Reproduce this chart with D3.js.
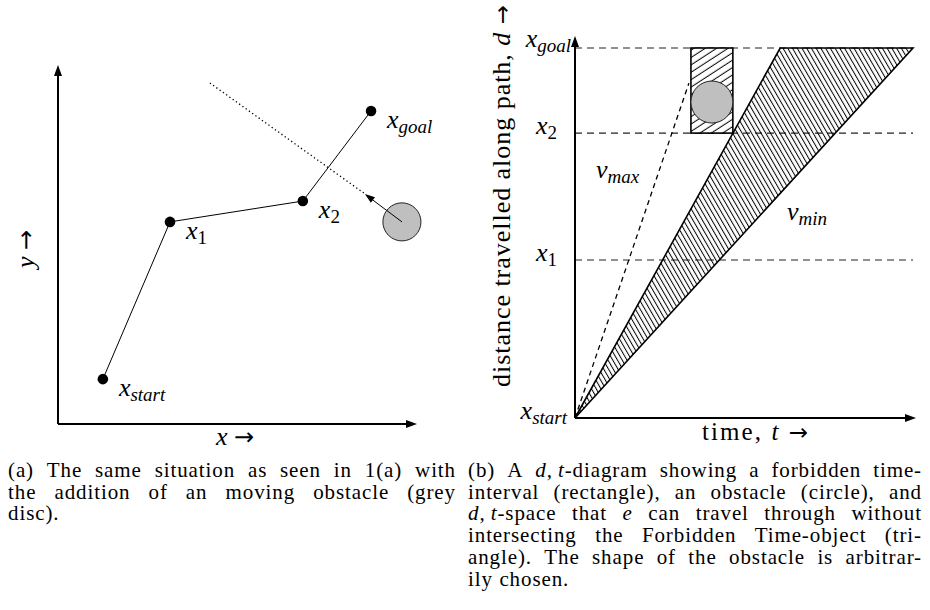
<!DOCTYPE html>
<html>
<head>
<meta charset="utf-8">
<script src="https://cdn.jsdelivr.net/npm/d3@7"></script>
<style>
  body { margin: 0; background: #fff; }
  text { font-family: "Liberation Serif", serif; fill: #000; }
  .arr { font-family: "DejaVu Sans", sans-serif; }
</style>
</head>
<body>
<div id="container"></div>
<script>
// ---- data: (a) path in the plane, units 0..10 ----
let pathSubs = ["start", "1", "2", "goal"];
let pathX = [1.25, 3.12, 6.82, 8.72];
let pathY = [1.25, 5.63, 6.21, 8.72];
let obstacleXY = [9.58, 5.63];
let obstacleR = 0.53;
let motionTip = [8.55, 6.41];     // end of the little arrow
let motionFrom = [4.23, 9.5];     // start of the dotted line

// ---- data: (b) d,t diagram, both axes 0..1 ----
let levelSubs = ["start", "1", "2", "goal"];
let levelD = [0, 0.427, 0.77, 1];
let triT = [0, 0.607, 1.0];
let triD = [0, 1, 1];
let rectT = [0.343, 0.467];
let rectD = [0.77, 1];
let discTD = [0.405, 0.854];
let vmaxEnd = [0.337, 0.905];

let captionA = [
  "(a) The same situation as seen in 1(a) with",
  "the addition of an moving obstacle (grey",
  "disc)."
];
let captionB = [
  "(b) A $d,$\u2009$t$-diagram showing a forbidden time-",
  "interval (rectangle), an obstacle (circle), and",
  "$d,$\u2009$t$-space that $e$ can travel through without",
  "intersecting the Forbidden Time-object (tri-",
  "angle). The shape of the obstacle is arbitrar-",
  "ily chosen."
];

let w = 930;
let h = 610;

let viz = d3.select("#container")
  .append("svg")
    .attr("width", w)
    .attr("height", h)
;

let defs = viz.append("defs");
defs.append("pattern")
    .attr("id", "hatchTri")
    .attr("patternUnits", "userSpaceOnUse")
    .attr("width", 10).attr("height", 4.1)
    .attr("patternTransform", "rotate(60)")
  .append("line")
    .attr("x1", 0).attr("y1", 2).attr("x2", 10).attr("y2", 2)
    .attr("stroke", "black").attr("stroke-width", 1);
defs.append("pattern")
    .attr("id", "hatchRect")
    .attr("patternUnits", "userSpaceOnUse")
    .attr("width", 10).attr("height", 6.2)
    .attr("patternTransform", "rotate(-33)")
  .append("line")
    .attr("x1", 0).attr("y1", 3).attr("x2", 10).attr("y2", 3)
    .attr("stroke", "black").attr("stroke-width", 1);

// little helper: italic x with a subscript
function mathLabel(g, x, y, main, sub, anchor){
  let t = g.append("text")
      .attr("x", x).attr("y", y)
      .attr("text-anchor", anchor || "start")
      .attr("font-size", 26);
  t.append("tspan").attr("font-style", "italic").text(main);
  t.append("tspan")
      .attr("dy", 5)
      .attr("font-size", 19)
      .attr("font-style", isNaN(+sub) ? "italic" : "normal")
      .text(sub);
  return t;
}

function arrowHead(g, tip, from, len, half){
  let dx = tip[0]-from[0], dy = tip[1]-from[1];
  let L = Math.sqrt(dx*dx+dy*dy);
  let ux = dx/L, uy = dy/L;
  let bx = tip[0]-ux*len, by = tip[1]-uy*len;
  let pts = [tip, [bx - uy*half, by + ux*half], [bx + uy*half, by - ux*half]];
  g.append("path").attr("d", d3.line()(pts) + "Z").attr("fill", "black");
}

// ================= (a) =================
let left = viz.append("g");
let xScale = d3.scaleLinear().domain([0, 10]).range([58, 417]);
let yScale = d3.scaleLinear().domain([0, 10]).range([424, 65]);

// axes
left.append("line")
    .attr("x1", xScale(0)).attr("y1", yScale(0))
    .attr("x2", xScale(10) - 8).attr("y2", yScale(0))
    .attr("stroke", "black").attr("stroke-width", 2);
left.append("line")
    .attr("x1", xScale(0)).attr("y1", yScale(0))
    .attr("x2", xScale(0)).attr("y2", yScale(10) + 8)
    .attr("stroke", "black").attr("stroke-width", 2);
arrowHead(left, [xScale(10), yScale(0)], [xScale(0), yScale(0)], 11, 4);
arrowHead(left, [xScale(0), yScale(10)], [xScale(0), yScale(0)], 11, 4);

left.append("text").attr("x", 216).attr("y", 445)
    .attr("font-size", 26)
    .html('<tspan font-style="italic">x</tspan> <tspan class="arr" font-size="24">\u2192</tspan>');
left.append("text")
    .attr("transform", "translate(34,268) rotate(-90)")
    .attr("font-size", 26)
    .html('<tspan font-style="italic">y</tspan> <tspan class="arr" font-size="24">\u2192</tspan>');

// dotted trajectory of the obstacle
left.append("line")
    .attr("x1", xScale(motionFrom[0])).attr("y1", yScale(motionFrom[1]))
    .attr("x2", xScale(motionTip[0])).attr("y2", yScale(motionTip[1]))
    .attr("stroke", "black").attr("stroke-width", 1.3)
    .attr("stroke-dasharray", "1.3,2.7");

// path
let pts = pathX.map(function(d, i){ return [xScale(d), yScale(pathY[i])]; });
left.append("path")
    .attr("d", d3.line()(pts))
    .attr("fill", "none").attr("stroke", "black").attr("stroke-width", 1);
left.selectAll(".node").data(pts).enter()
  .append("circle")
    .attr("cx", function(d){ return d[0]; })
    .attr("cy", function(d){ return d[1]; })
    .attr("r", 5.3)
    .attr("fill", "black");
pts.forEach(function(p, i){
  mathLabel(left, p[0] + 16, p[1] + 17, "x", pathSubs[i]);
});

// moving obstacle
let oc = [xScale(obstacleXY[0]), yScale(obstacleXY[1])];
left.append("circle")
    .attr("cx", oc[0]).attr("cy", oc[1])
    .attr("r", xScale(obstacleR) - xScale(0))
    .attr("fill", "#bfbfbf").attr("stroke", "#222").attr("stroke-width", 1);
let tip = [xScale(motionTip[0]), yScale(motionTip[1])];
left.append("line")
    .attr("x1", oc[0]).attr("y1", oc[1])
    .attr("x2", tip[0] + 5).attr("y2", tip[1] + 4)
    .attr("stroke", "black").attr("stroke-width", 1);
arrowHead(left, tip, oc, 10, 3.5);

// ================= (b) =================
let right = viz.append("g");
let tScale = d3.scaleLinear().domain([0, 1]).range([575, 913]);
let dScale = d3.scaleLinear().domain([0, 1]).range([418, 48]);

// dashed level lines
right.selectAll(".level").data(levelD.slice(1)).enter()
  .append("line")
    .attr("x1", tScale(0)).attr("x2", tScale(1))
    .attr("y1", function(d){ return dScale(d); })
    .attr("y2", function(d){ return dScale(d); })
    .attr("stroke", "#222").attr("stroke-width", 1.1)
    .attr("stroke-dasharray", "7,5");

// v_max line
right.append("line")
    .attr("x1", tScale(0)).attr("y1", dScale(0))
    .attr("x2", tScale(vmaxEnd[0])).attr("y2", dScale(vmaxEnd[1]))
    .attr("stroke", "black").attr("stroke-width", 1.3)
    .attr("stroke-dasharray", "5,4");

// triangle
let tri = triT.map(function(d, i){ return [tScale(d), dScale(triD[i])]; });
right.append("path")
    .attr("d", d3.line()(tri) + "Z")
    .attr("fill", "url(#hatchTri)")
    .attr("stroke", "black").attr("stroke-width", 1.6);

// forbidden interval rectangle
right.append("rect")
    .attr("x", tScale(rectT[0])).attr("y", dScale(rectD[1]))
    .attr("width", tScale(rectT[1]) - tScale(rectT[0]))
    .attr("height", dScale(rectD[0]) - dScale(rectD[1]))
    .attr("fill", "white");
right.append("rect")
    .attr("x", tScale(rectT[0])).attr("y", dScale(rectD[1]))
    .attr("width", tScale(rectT[1]) - tScale(rectT[0]))
    .attr("height", dScale(rectD[0]) - dScale(rectD[1]))
    .attr("fill", "url(#hatchRect)")
    .attr("stroke", "black").attr("stroke-width", 1.6);
right.append("circle")
    .attr("cx", tScale(discTD[0])).attr("cy", dScale(discTD[1]))
    .attr("r", 21)
    .attr("fill", "#bfbfbf").attr("stroke", "#222").attr("stroke-width", 1);

// axes
right.append("line")
    .attr("x1", tScale(0)).attr("y1", dScale(0))
    .attr("x2", 907).attr("y2", dScale(0))
    .attr("stroke", "black").attr("stroke-width", 2);
right.append("line")
    .attr("x1", tScale(0)).attr("y1", dScale(0))
    .attr("x2", tScale(0)).attr("y2", 45)
    .attr("stroke", "black").attr("stroke-width", 2);
arrowHead(right, [916, dScale(0)], [tScale(0), dScale(0)], 11, 4);
arrowHead(right, [tScale(0), 36], [tScale(0), dScale(0)], 11, 4);

let labelRight = [567, 557, 557, 571];
levelD.forEach(function(d, i){
  mathLabel(right, labelRight[i], dScale(d) + (i == 3 ? -1 : 1), "x", levelSubs[i], "end");
});

mathLabel(right, 596, 178, "v", "max");
mathLabel(right, 787, 220, "v", "min");

right.append("text").attr("x", 702).attr("y", 440)
    .attr("font-size", 25)
    .attr("textLength", 106).attr("lengthAdjust", "spacing")
    .html('time, <tspan font-style="italic">t</tspan> <tspan class="arr" font-size="23">\u2192</tspan>');
right.append("text")
    .attr("transform", "translate(510,387) rotate(-90)")
    .attr("font-size", 26)
    .attr("textLength", 382).attr("lengthAdjust", "spacing")
    .html('distance travelled along path, <tspan font-style="italic">d</tspan> <tspan class="arr" font-size="23">\u2192</tspan>');

// ================= captions =================
// one text per word, words spread over the column like LaTeX justification
let capSize = 21;
let capLetter = 0.9;
function captionLine(str, x0, width, y, justify){
  let words = str.split(" ");
  let nodes = words.map(function(wd){
    let t = viz.append("text")
        .attr("y", y)
        .attr("font-size", capSize)
        .attr("letter-spacing", capLetter);
    wd.split("$").forEach(function(seg, k){
      if(seg.length) t.append("tspan").attr("font-style", k % 2 ? "italic" : "normal").text(seg);
    });
    return t;
  });
  let widths = nodes.map(function(n){ return n.node().getComputedTextLength(); });
  let total = d3.sum(widths);
  let gap = justify && nodes.length > 1 ? (width - total) / (nodes.length - 1) : 6.5;
  let x = x0;
  nodes.forEach(function(n, i){
    n.attr("x", x);
    x += widths[i] + gap;
  });
}
captionA.forEach(function(s, i){
  captionLine(s, 8, 448, 477 + i*21.7, i < captionA.length - 1);
});
captionB.forEach(function(s, i){
  captionLine(s, 468, 454, 477 + i*21.7, i < captionB.length - 1);
});
</script>
</body>
</html>
